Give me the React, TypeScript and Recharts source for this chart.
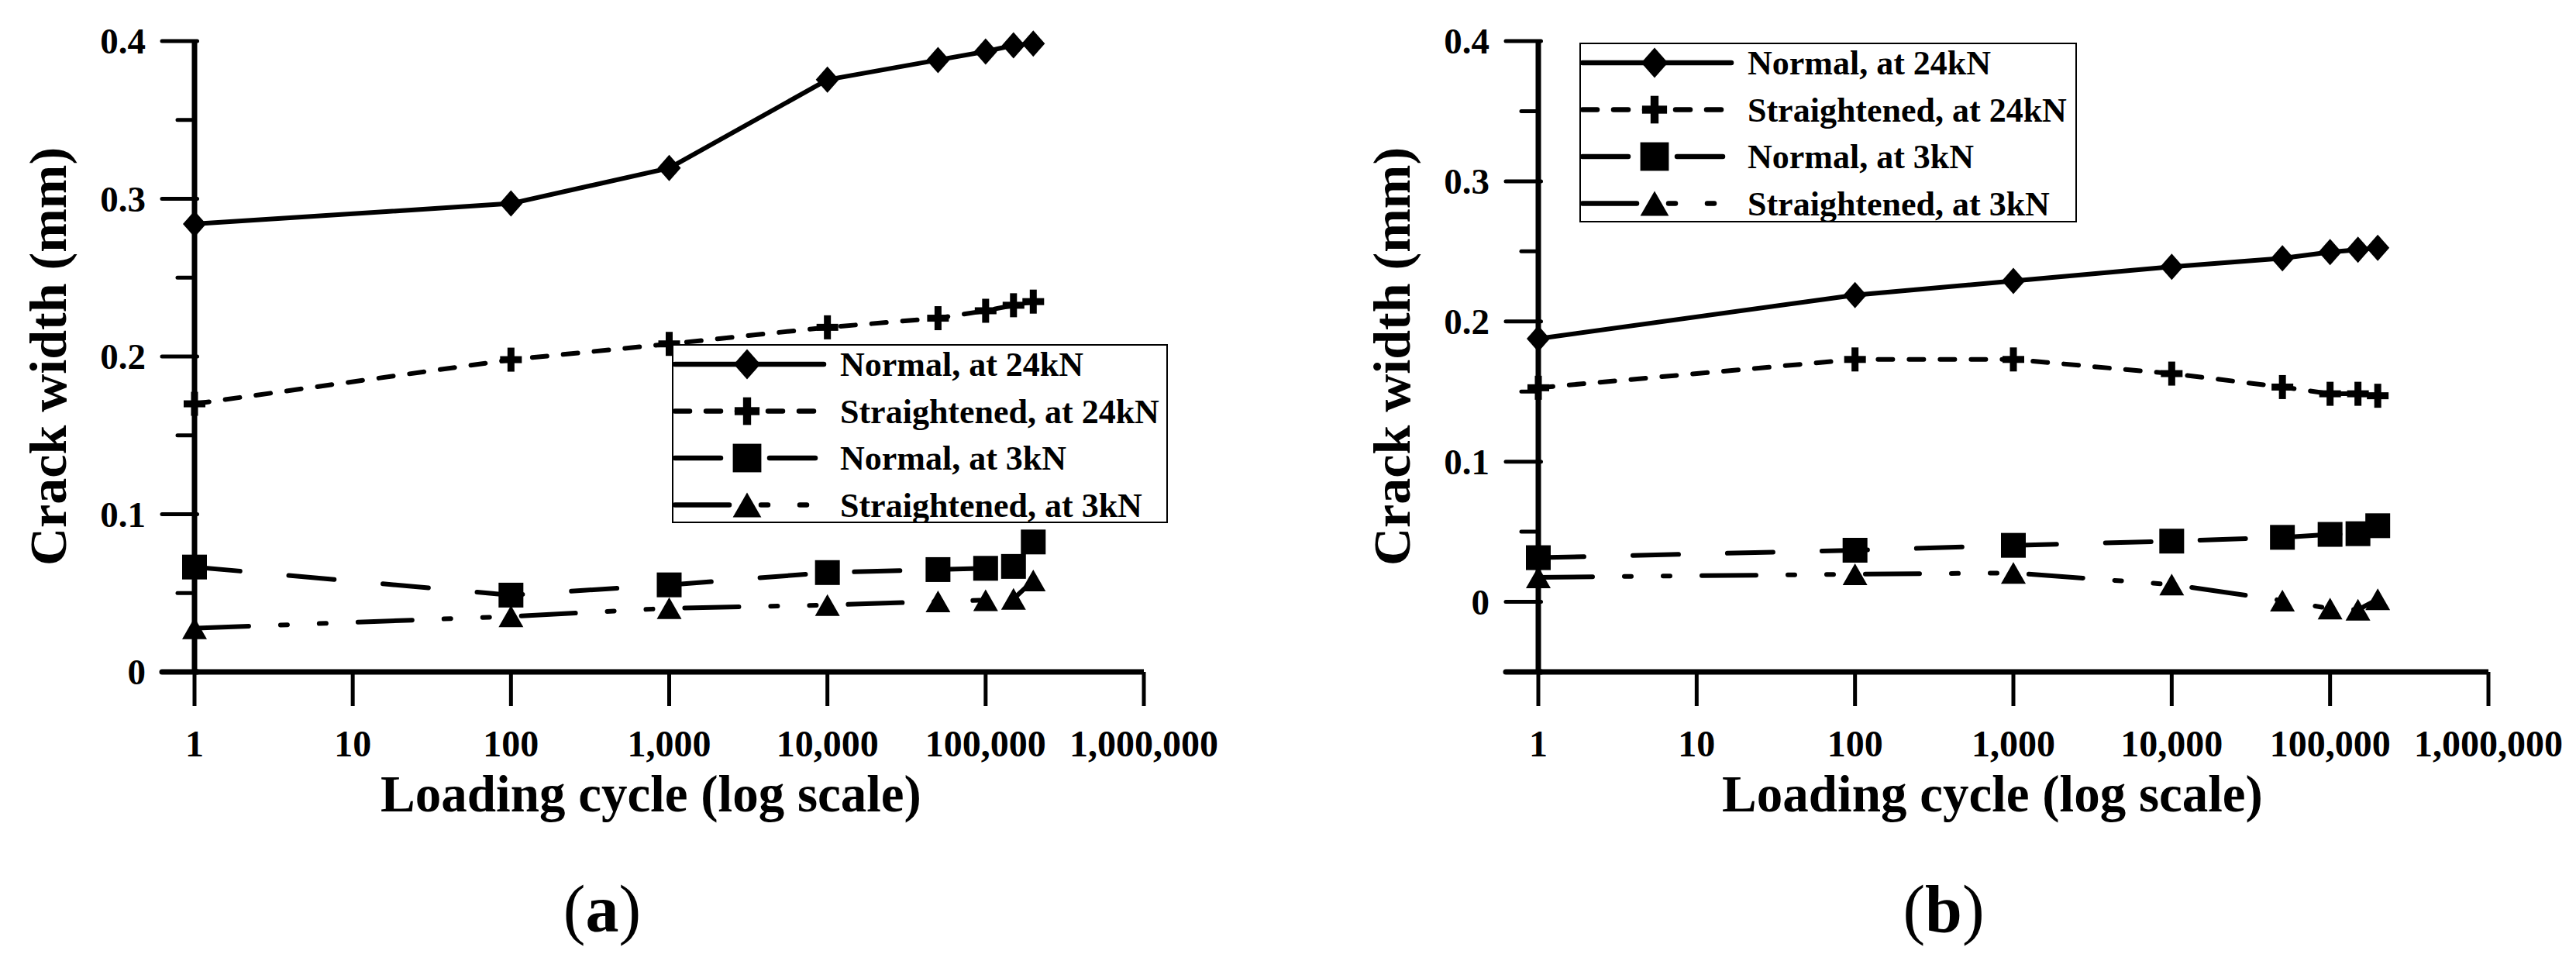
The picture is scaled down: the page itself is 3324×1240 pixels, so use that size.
import React from 'react';
import { LineChart, Line, XAxis, YAxis, Legend } from 'recharts';

// ---------- data ----------
const cycles = [1, 100, 1000, 10000, 50000, 100000, 150000, 200000];
const xTicks = [1, 10, 100, 1000, 10000, 100000, 1000000];
const xTickLabels = ['1', '10', '100', '1,000', '10,000', '100,000', '1,000,000'];
const yTicksA = [0, 0.05, 0.1, 0.15, 0.2, 0.25, 0.3, 0.35, 0.4];
const yTicksB = [-0.05, 0, 0.05, 0.1, 0.15, 0.2, 0.25, 0.3, 0.35, 0.4];
const seriesNames = ['Normal, at 24kN', 'Straightened, at 24kN', 'Normal, at 3kN', 'Straightened, at 3kN'];

// panel (a)
const aNormal24 = [0.284, 0.297, 0.3195, 0.3755, 0.388, 0.3934, 0.3973, 0.3984];
const aStraight24 = [0.17, 0.198, 0.208, 0.2185, 0.2243, 0.229, 0.2325, 0.2348];
const aNormal3 = [0.0665, 0.0487, 0.0552, 0.063, 0.0649, 0.0657, 0.0669, 0.0824];
const aStraight3 = [0.0277, 0.0352, 0.0404, 0.0424, 0.0447, 0.0455, 0.0463, 0.058];

// panel (b)
const bNormal24 = [0.1877, 0.2188, 0.2289, 0.239, 0.2451, 0.2495, 0.2512, 0.2525];
const bStraight24 = [0.1527, 0.1729, 0.1729, 0.1628, 0.1532, 0.1484, 0.1484, 0.147];
const bNormal3 = [0.0315, 0.0368, 0.0403, 0.0433, 0.046, 0.0481, 0.0486, 0.0543];
const bStraight3 = [0.0175, 0.0197, 0.0206, 0.0123, 0.0009, -0.0048, -0.0057, 0.0018];

// ---------- styles ----------
const FONT = "'Liberation Serif', 'Times New Roman', serif";
const seriesStyles = [
  { shape: 'diamond', dash: undefined as string | undefined },
  { shape: 'plus', dash: '19 21' },
  { shape: 'square', dash: '59 63' },
  { shape: 'triangle', dash: '70 41 9 41 9 41' },
];

const H = 1240;
const PLOT_TOP = 53;
const PLOT_BOTTOM = 867;
const XAXIS_H = 100;

function MarkerShape({ shape, cx, cy, s }: { shape: string; cx: number; cy: number; s: number }) {
  if (shape === 'diamond') {
    const w = 15 * s, h = 17 * s;
    return <path d={`M${cx},${cy - h}L${cx + w},${cy}L${cx},${cy + h}L${cx - w},${cy}Z`} fill="#000" />;
  }
  if (shape === 'plus') {
    const a = 14 * s, b = 15.5 * s, t = 4.5 * s;
    return (
      <g fill="#000">
        <rect x={cx - a} y={cy - t} width={2 * a} height={2 * t} />
        <rect x={cx - t} y={cy - b} width={2 * t} height={2 * b} />
      </g>
    );
  }
  if (shape === 'square') {
    const h = 16 * s;
    return <rect x={cx - h} y={cy - h} width={2 * h} height={2 * h} fill="#000" />;
  }
  const w = 16 * s, h = 14 * s;
  return <path d={`M${cx},${cy - h}L${cx + w},${cy + h}L${cx - w},${cy + h}Z`} fill="#000" />;
}

const renderDot = (shape: string) => (props: any) => {
  const { cx, cy, index } = props;
  if (cx == null || cy == null || isNaN(cx) || isNaN(cy)) return <g key={`e-${shape}-${index}`} />;
  return (
    <g key={`${shape}-${index}`}>
      <MarkerShape shape={shape} cx={cx} cy={cy} s={1} />
    </g>
  );
};

function XTick(props: any) {
  const { x, y, payload } = props;
  const idx = xTicks.indexOf(payload.value);
  return (
    <g>
      <line x1={x} x2={x} y1={y} y2={y + 44} stroke="#000" strokeWidth={5} />
      <text x={x} y={y + 109} textAnchor="middle" fontFamily={FONT} fontSize={48} fontWeight="bold" fill="#000">
        {idx >= 0 ? xTickLabels[idx] : ''}
      </text>
    </g>
  );
}

function YTick(props: any) {
  const { x, y, payload, minVal } = props;
  const v = payload.value as number;
  const isBottom = Math.abs(v - minVal) < 1e-9;
  const major = Math.abs(v * 10 - Math.round(v * 10)) < 1e-6;
  const long = major || isBottom;
  return (
    <g>
      <line
        x1={x - (long ? 42 : 22)}
        x2={x + (long ? 3.5 : 0)}
        y1={y}
        y2={y}
        stroke="#000"
        strokeWidth={isBottom ? 7 : 5}
        strokeLinecap="round"
      />
      {major && (
        <text x={x - 63} y={y + 16} textAnchor="end" fontFamily={FONT} fontSize={47} fontWeight="bold" fill="#000">
          {Math.abs(v) < 1e-9 ? '0' : v.toFixed(1)}
        </text>
      )}
    </g>
  );
}

function LegendBox({ w, h }: { w: number; h: number }) {
  return (
    <svg width={w} height={h} style={{ display: 'block' }}>
      <rect x={1} y={1} width={w - 2} height={h - 2} fill="#fff" stroke="#000" strokeWidth={2} />
      {seriesNames.map((name, i) => {
        const cy = 26 + 60.5 * i;
        const st = seriesStyles[i];
        return (
          <g key={name}>
            <line
              x1={4}
              x2={196}
              y1={cy}
              y2={cy}
              stroke="#000"
              strokeWidth={6.5}
              strokeDasharray={st.dash}
              strokeLinecap="round"
            />
            <MarkerShape shape={st.shape} cx={97} cy={cy} s={1.15} />
            <text x={217} y={cy + 15} fontFamily={FONT} fontSize={44} fontWeight="bold" fill="#000">
              {name}
            </text>
          </g>
        );
      })}
    </svg>
  );
}

type PanelProps = {
  left: number;
  width: number;
  plotLeft: number;
  plotRight: number;
  yDomain: [number, number];
  yTicks: number[];
  values: number[][];
  legend: { x: number; y: number; w: number; h: number };
};

function Panel({ left, width, plotLeft, plotRight, yDomain, yTicks, values, legend }: PanelProps) {
  const seriesData = values.map((v) => cycles.map((c, i) => ({ x: c, y: v[i] })));
  return (
    <div style={{ position: 'absolute', left, top: 0, width, height: H }}>
      <LineChart
        width={width}
        height={H}
        margin={{ top: PLOT_TOP, right: left + width - plotRight, bottom: H - PLOT_BOTTOM - XAXIS_H, left: 0 }}
      >
        <XAxis
          dataKey="x"
          type="number"
          scale="log"
          domain={[1, 1000000]}
          ticks={xTicks}
          interval={0}
          height={XAXIS_H}
          tickSize={0}
          tickMargin={0}
          tickLine={false}
          axisLine={{ stroke: '#000', strokeWidth: 7 }}
          tick={(p: any) => <XTick {...p} />}
        />
        <YAxis
          type="number"
          domain={yDomain}
          ticks={yTicks}
          interval={0}
          width={plotLeft - left}
          tickSize={0}
          tickMargin={0}
          tickLine={false}
          axisLine={{ stroke: '#000', strokeWidth: 7 }}
          tick={(p: any) => <YTick {...p} minVal={yDomain[0]} />}
        />
        {seriesData.map((d, i) => (
          <Line
            key={seriesNames[i]}
            name={seriesNames[i]}
            data={d}
            dataKey="y"
            type="linear"
            stroke="#000"
            strokeWidth={6}
            strokeDasharray={seriesStyles[i].dash}
            strokeLinecap="round"
            strokeLinejoin="round"
            dot={renderDot(seriesStyles[i].shape)}
            activeDot={false}
            isAnimationActive={false}
          />
        ))}
        <Legend
          layout="vertical"
          align="center"
          verticalAlign="middle"
          wrapperStyle={{ left: legend.x, top: legend.y, width: legend.w, height: legend.h, margin: 0, padding: 0 }}
          content={() => <LegendBox w={legend.w} h={legend.h} />}
        />
      </LineChart>
    </div>
  );
}

function Titles() {
  const t = (cx: number, tag: string) => (
    <g key={tag}>
      <text x={cx - 44} y={1047} textAnchor="middle" fontFamily={FONT} fontSize={67} fontWeight="bold" fill="#000">
        Loading cycle (log scale)
      </text>
      <text x={cx - 107} y={1202} textAnchor="middle" fontFamily={FONT} fontSize={86} fill="#000">
        (<tspan fontWeight="bold">{tag}</tspan>)
      </text>
    </g>
  );
  return (
    <svg width={3324} height={H} style={{ position: 'absolute', left: 0, top: 0, pointerEvents: 'none' }}>
      <text
        transform="translate(85, 460) rotate(-90)"
        textAnchor="middle"
        fontFamily={FONT}
        fontSize={68}
        fontWeight="bold"
        fill="#000"
      >
        Crack width (mm)
      </text>
      <text
        transform="translate(1819, 460) rotate(-90)"
        textAnchor="middle"
        fontFamily={FONT}
        fontSize={68}
        fontWeight="bold"
        fill="#000"
      >
        Crack width (mm)
      </text>
      {t(884, 'a')}
      {t(2615, 'b')}
    </svg>
  );
}

export default function App() {
  return (
    <div style={{ position: 'absolute', left: 0, top: 0, width: 3324, height: H, background: '#fff', overflow: 'hidden' }}>
      <Panel
        left={0}
        width={1660}
        plotLeft={251}
        plotRight={1476}
        yDomain={[0, 0.4]}
        yTicks={yTicksA}
        values={[aNormal24, aStraight24, aNormal3, aStraight3]}
        legend={{ x: 867, y: 444, w: 640, h: 231 }}
      />
      <Panel
        left={1660}
        width={1664}
        plotLeft={1985}
        plotRight={3211}
        yDomain={[-0.05, 0.4]}
        yTicks={yTicksB}
        values={[bNormal24, bStraight24, bNormal3, bStraight3]}
        legend={{ x: 378, y: 55, w: 642, h: 232 }}
      />
      <Titles />
    </div>
  );
}
